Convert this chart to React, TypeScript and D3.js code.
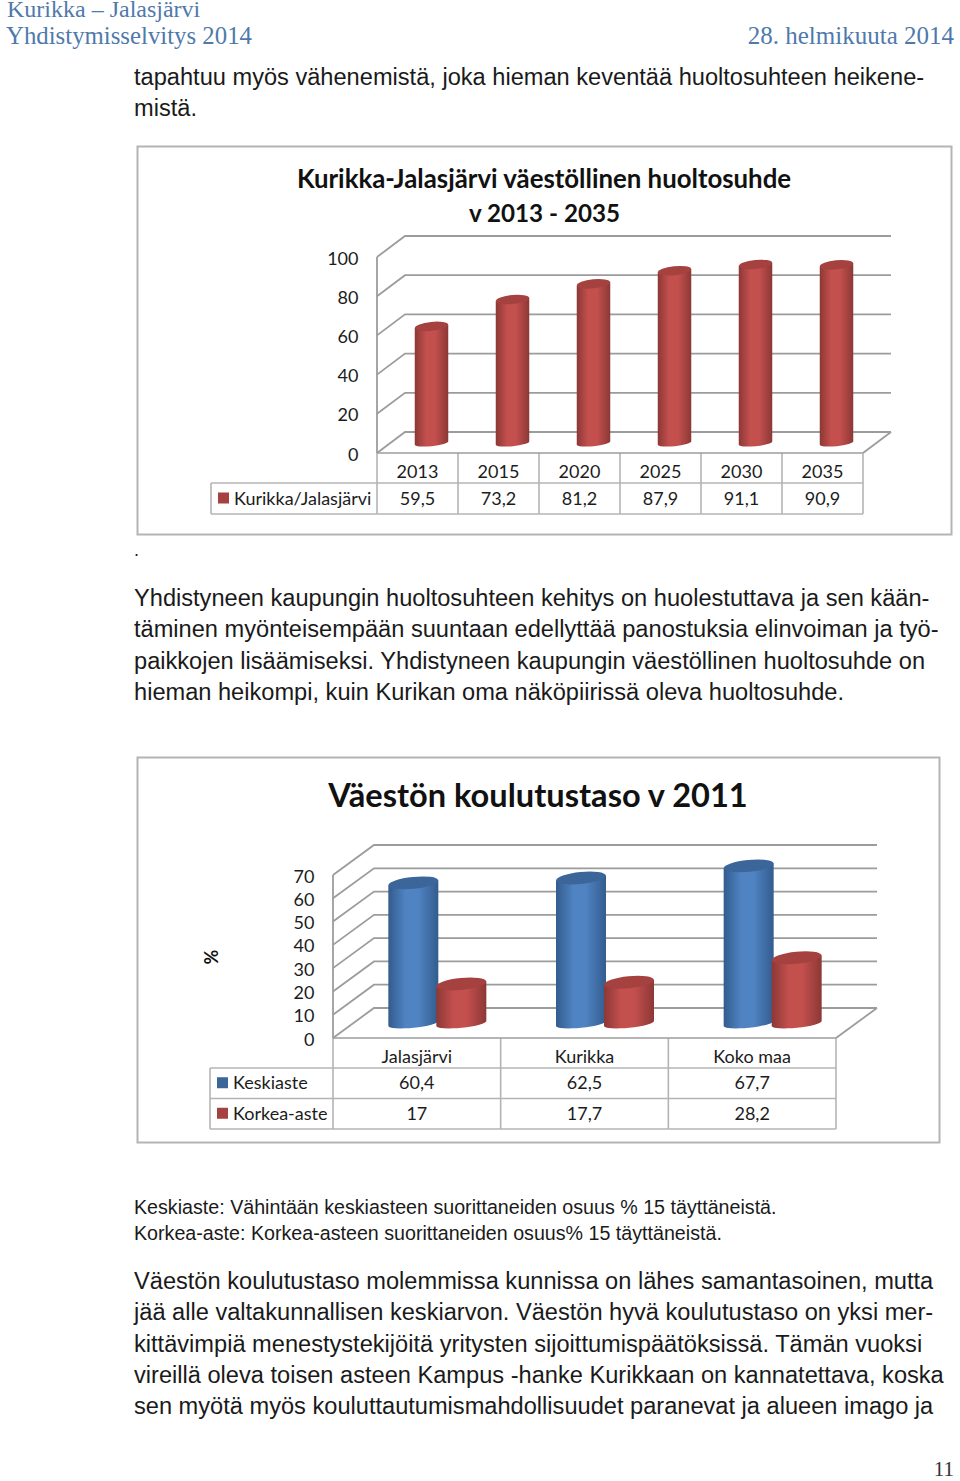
import * as d3 from "d3";

// first chart
const huoltoYears = ["2013", "2015", "2020", "2025", "2030", "2035"];
const huoltoValues = [59.5, 73.2, 81.2, 87.9, 91.1, 90.9];
const huoltoLabels = ["59,5", "73,2", "81,2", "87,9", "91,1", "90,9"];
const huoltoTicks = [0, 20, 40, 60, 80, 100];

// second chart
const places = ["Jalasjärvi", "Kurikka", "Koko maa"];
const keskiaste = [60.4, 62.5, 67.7];
const korkeaAste = [17, 17.7, 28.2];
const keskiasteLabels = ["60,4", "62,5", "67,7"];
const korkeaAsteLabels = ["17", "17,7", "28,2"];
const koulutusTicks = [0, 10, 20, 30, 40, 50, 60, 70];

const topLines = [
  "tapahtuu myös vähenemistä, joka hieman keventää huoltosuhteen heikene-",
  "mistä.",
];
const middleLines = [
  "Yhdistyneen kaupungin huoltosuhteen kehitys on huolestuttava ja sen kään-",
  "täminen myönteisempään suuntaan edellyttää panostuksia elinvoiman ja työ-",
  "paikkojen lisäämiseksi. Yhdistyneen kaupungin väestöllinen huoltosuhde on",
  "hieman heikompi, kuin Kurikan oma näköpiirissä oleva huoltosuhde.",
];
const noteLines = [
  "Keskiaste: Vähintään keskiasteen suorittaneiden osuus % 15 täyttäneistä.",
  "Korkea-aste: Korkea-asteen suorittaneiden osuus% 15 täyttäneistä.",
];
const bottomLines = [
  "Väestön koulutustaso molemmissa kunnissa on lähes samantasoinen, mutta",
  "jää alle valtakunnallisen keskiarvon. Väestön hyvä koulutustaso on yksi mer-",
  "kittävimpiä menestystekijöitä yritysten sijoittumispäätöksissä. Tämän vuoksi",
  "vireillä oleva toisen asteen Kampus -hanke Kurikkaan on kannatettava, koska",
  "sen myötä myös kouluttautumismahdollisuudet paranevat ja alueen imago ja",
];

const GRID = "#9c9c9c";
const FRAME = "#b4b4b4";
const INK = "#1c1c1c";
const CHART_FONT = "Lato, sans-serif";
const BODY_FONT = "'Liberation Sans', sans-serif";
const HEAD_FONT = "'Liberation Serif', serif";

type Series = { name: string; values: number[]; labels: string[]; color: string; grad: string };

type Chart3DProps = {
  left: number;
  right: number;
  y0: number;
  yTop: number;
  dx: number;
  dy: number;
  ticks: number[];
  categories: string[];
  series: Series[];
  barWidth: number;
  ry: number;
  lift: number;
  legendLeft: number;
  headerH: number;
  rowH: number;
  fontSize: number;
};

// cylinder with a slightly tilted top and bottom
const Cylinder = ({ cx, top, base, w, ry, fill, topFill }: any) => {
  const rx = w / 2;
  const tilt = w * 0.05;
  const angle = (-Math.atan2(tilt * 2, w) * 180) / Math.PI;
  const l = cx - rx;
  const r = cx + rx;
  const body = d3.path();
  body.moveTo(l, top + tilt);
  body.lineTo(r, top - tilt);
  body.lineTo(r, base - tilt);
  const d = `${body.toString()} A${rx},${ry * 0.7} ${angle} 0 1 ${l},${base + tilt} Z`;
  return (
    <g>
      <path d={d} fill={`url(#${fill})`} />
      <ellipse cx={cx} cy={top} rx={rx} ry={ry} fill={topFill} transform={`rotate(${angle} ${cx} ${top})`} />
    </g>
  );
};

const Chart3D = (p: Chart3DProps) => {
  const y = d3.scaleLinear().domain([p.ticks[0], p.ticks[p.ticks.length - 1]]).range([p.y0, p.yTop]);
  const x = d3.scaleBand().domain(p.categories).range([p.left, p.right]);
  const n = p.series.length;
  const tableBottom = p.y0 + p.headerH + n * p.rowH;

  return (
    <g fontFamily={CHART_FONT} fill={INK} fontSize={p.fontSize}>
      {/* walls and gridlines */}
      <g stroke={GRID} strokeWidth={1.8} fill="none">
        {p.ticks.map((t) => (
          <path
            key={t}
            d={`M${p.left},${y(t)} L${p.left + p.dx},${y(t) - p.dy} H${p.right + p.dx}`}
          />
        ))}
        <line x1={p.left} x2={p.left} y1={p.yTop} y2={p.y0} />
        <path d={`M${p.right},${p.y0} L${p.right + p.dx},${p.y0 - p.dy}`} />
      </g>
      {p.ticks.map((t) => (
        <text key={t} x={p.left - 18.5} y={y(t) + p.fontSize * 0.42} textAnchor="end">
          {t}
        </text>
      ))}

      {/* bars */}
      {p.categories.map((c, i) =>
        p.series.map((s, j) => {
          const cx =
            x(c)! + x.bandwidth() / 2 + p.dx / 2 + (j - (n - 1) / 2) * (p.barWidth - 2);
          return (
            <Cylinder
              key={c + s.name}
              cx={cx}
              top={y(s.values[i]) - p.lift}
              base={p.y0 - p.lift}
              w={p.barWidth}
              ry={p.ry}
              fill={s.grad}
              topFill={s.color}
            />
          );
        }),
      )}

      {/* data table */}
      <g stroke={FRAME} strokeWidth={1.6} fill="none">
        <line x1={p.left} x2={p.left} y1={p.y0} y2={tableBottom} />
        {p.categories.map((c) => (
          <line key={c} x1={x(c)! + x.bandwidth()} x2={x(c)! + x.bandwidth()} y1={p.y0} y2={tableBottom} />
        ))}
        <line x1={p.left} x2={p.right} y1={p.y0} y2={p.y0} stroke={GRID} />
        {p.series.map((s, j) => (
          <line
            key={s.name}
            x1={p.legendLeft}
            x2={p.right}
            y1={p.y0 + p.headerH + j * p.rowH}
            y2={p.y0 + p.headerH + j * p.rowH}
          />
        ))}
        <line x1={p.legendLeft} x2={p.right} y1={tableBottom} y2={tableBottom} />
        <line x1={p.legendLeft} x2={p.legendLeft} y1={p.y0 + p.headerH} y2={tableBottom} />
      </g>
      {p.categories.map((c) => (
        <text
          key={c}
          x={x(c)! + x.bandwidth() / 2}
          y={p.y0 + p.headerH - 5}
          textAnchor="middle"
        >
          {c}
        </text>
      ))}
      {p.series.map((s, j) => {
        const rowMid = p.y0 + p.headerH + j * p.rowH + p.rowH / 2;
        return (
          <g key={s.name}>
            <rect x={p.legendLeft + 7} y={rowMid - 6} width={11} height={11} fill={s.color} />
            <text x={p.legendLeft + 23} y={rowMid + 6}>
              {s.name}
            </text>
            {p.categories.map((c, i) => (
              <text key={c} x={x(c)! + x.bandwidth() / 2} y={rowMid + 6} textAnchor="middle">
                {s.labels[i]}
              </text>
            ))}
          </g>
        );
      })}
    </g>
  );
};

const Gradient = ({ id, edge, mid }: { id: string; edge: string; mid: string }) => (
  <linearGradient id={id} x1="0" x2="1" y1="0" y2="0">
    <stop offset="0" stopColor={edge} />
    <stop offset="0.35" stopColor={mid} />
    <stop offset="0.6" stopColor={mid} />
    <stop offset="1" stopColor={edge} />
  </linearGradient>
);

const Lines = ({ lines, x, y, step, size }: any) => (
  <g fontFamily={BODY_FONT} fontSize={size} fill="#1a1a1a">
    {lines.map((l: string, i: number) => (
      <text key={i} x={x} y={y + i * step}>
        {l}
      </text>
    ))}
  </g>
);

export default function App() {
  const RED = "#a5413f";
  const BLUE = "#3c669a";
  return (
    <svg
      width={960}
      height={1481}
      style={{ position: "absolute", left: 0, top: 0, background: "#fff" }}
    >
      <defs>
        <Gradient id="redBar" edge="#8c3836" mid="#c4504e" />
        <Gradient id="blueBar" edge="#335c8e" mid="#4f83c2" />
      </defs>

      <g fontFamily={HEAD_FONT} fill="#4f79ab">
        <text x={7} y={17} fontSize={24}>Kurikka – Jalasjärvi</text>
        <text x={6} y={44} fontSize={24.8}>Yhdistymisselvitys 2014</text>
        <text x={954} y={44} fontSize={25} textAnchor="end">28. helmikuuta 2014</text>
      </g>

      <Lines lines={topLines} x={134} y={85} step={31.3} size={23.62} />

      <rect x={137.5} y={146.5} width={814} height={388} fill="#fff" stroke={FRAME} strokeWidth={2} />
      <g fontFamily={CHART_FONT} fontWeight="bold" fill="#111" textAnchor="middle">
        <text x={544} y={188} fontSize={25.8}>Kurikka-Jalasjärvi väestöllinen huoltosuhde</text>
        <text x={544.5} y={222} fontSize={24.2}>v 2013 - 2035</text>
      </g>
      <Chart3D
        left={377}
        right={863}
        y0={453}
        yTop={257}
        dx={28}
        dy={21}
        ticks={huoltoTicks}
        categories={huoltoYears}
        series={[
          { name: "Kurikka/Jalasjärvi", values: huoltoValues, labels: huoltoLabels, color: RED, grad: "redBar" },
        ]}
        barWidth={33.5}
        ry={4.5}
        lift={10}
        legendLeft={211}
        headerH={30}
        rowH={31}
        fontSize={18}
      />
      <text x={134} y={556} fontFamily={BODY_FONT} fontSize={18} fill="#1a1a1a">.</text>

      <Lines lines={middleLines} x={134} y={606} step={31.4} size={23.62} />

      <rect x={137.5} y={757.5} width={802} height={385} fill="#fff" stroke={FRAME} strokeWidth={2} />
      <text x={538} y={807} fontFamily={CHART_FONT} fontWeight="bold" fontSize={32.6} fill="#111" textAnchor="middle">
        Väestön koulutustaso v 2011
      </text>
      <text
        transform="translate(218,957) rotate(-90)"
        fontFamily={CHART_FONT}
        fontWeight="bold"
        fontSize={18}
        fill="#111"
        textAnchor="middle"
      >
        %
      </text>
      <Chart3D
        left={333}
        right={836}
        y0={1038}
        yTop={875}
        dx={41}
        dy={30}
        ticks={koulutusTicks}
        categories={places}
        series={[
          { name: "Keskiaste", values: keskiaste, labels: keskiasteLabels, color: BLUE, grad: "blueBar" },
          { name: "Korkea-aste", values: korkeaAste, labels: korkeaAsteLabels, color: RED, grad: "redBar" },
        ]}
        barWidth={50}
        ry={6}
        lift={14.5}
        legendLeft={210}
        headerH={30}
        rowH={30.5}
        fontSize={18}
      />

      <Lines lines={noteLines} x={134} y={1214} step={26} size={19.67} />
      <Lines lines={bottomLines} x={134} y={1289} step={31.3} size={23.62} />

      <text x={954} y={1476} textAnchor="end" fontFamily={HEAD_FONT} fontSize={21} fill="#333">11</text>
    </svg>
  );
}
